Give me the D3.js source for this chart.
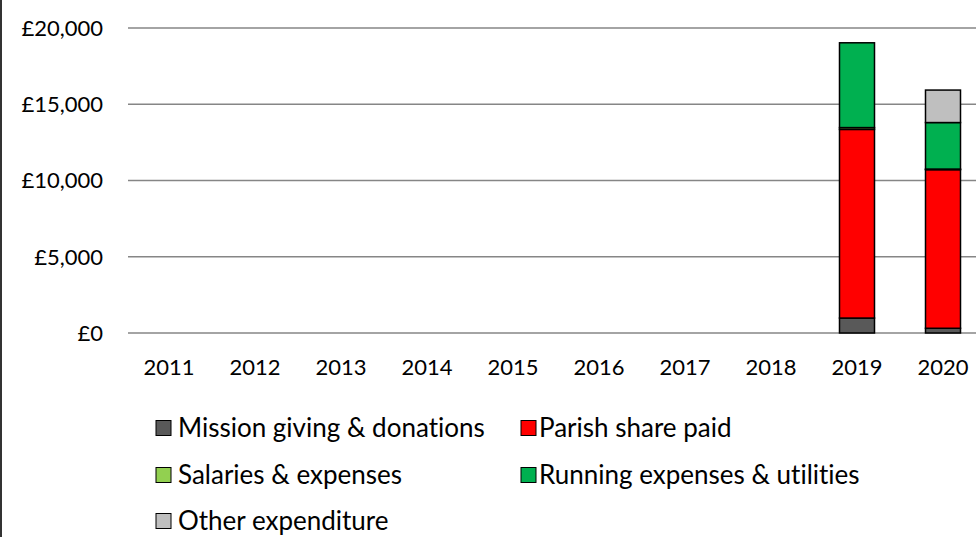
<!DOCTYPE html>
<html>
<head>
<meta charset="utf-8">
<script src="https://cdn.jsdelivr.net/npm/d3@7"></script>
<style>
  body { margin: 0; background: #fff; }
  svg { display: block; font-family: Lato, "Open Sans", sans-serif; font-variant-ligatures: none; }
</style>
</head>
<body>
<svg id="chart" width="976" height="537"></svg>
<script>
const years = ["2011", "2012", "2013", "2014", "2015", "2016", "2017", "2018", "2019", "2020"];
const seriesNames = ["Mission giving & donations", "Parish share paid", "Salaries & expenses", "Running expenses & utilities", "Other expenditure"];
const seriesColors = ["#595959", "#ff0000", "#92d050", "#00b050", "#bfbfbf"];

// values per series, one per year (0 where nothing is shown)
const mission = [0, 0, 0, 0, 0, 0, 0, 0, 980, 310];
const parishShare = [0, 0, 0, 0, 0, 0, 0, 0, 12370, 10400];
const salaries = [0, 0, 0, 0, 0, 0, 0, 0, 120, 40];
const running = [0, 0, 0, 0, 0, 0, 0, 0, 5560, 3050];
const other = [0, 0, 0, 0, 0, 0, 0, 0, 0, 2130];

const yTicks = [0, 5000, 10000, 15000, 20000];

const seriesValues = [mission, parishShare, salaries, running, other];
const table = years.map((y, i) => {
  const row = { year: y };
  seriesNames.forEach((s, j) => (row[s] = seriesValues[j][i]));
  return row;
});

const svg = d3.select("#chart");

const x = d3.scaleBand()
  .domain(years)
  .range([126, 986])
  .paddingInner(0.593)
  .paddingOuter(0.2965);

const y = d3.scaleLinear().domain([0, 20000]).range([333, 28]);

// gridlines
svg.append("g")
  .selectAll("line")
  .data(yTicks)
  .join("line")
  .attr("x1", 128)
  .attr("x2", 976)
  .attr("y1", (d) => y(d))
  .attr("y2", (d) => y(d))
  .attr("stroke", "#868686")
  .attr("stroke-width", 1.5);

// y axis labels
const fmt = d3.format(",");
svg.append("g")
  .selectAll("text")
  .data(yTicks)
  .join("text")
  .attr("x", 103)
  .attr("y", (d) => y(d))
  .attr("dy", "0.36em")
  .attr("text-anchor", "end")
  .attr("font-size", 22)
  .attr("fill", "#000")
  .text((d) => "£" + fmt(d));

// x axis labels
svg.append("g")
  .selectAll("text")
  .data(years)
  .join("text")
  .attr("x", (d) => x(d) + x.bandwidth() / 2)
  .attr("y", 367)
  .attr("dy", "0.36em")
  .attr("text-anchor", "middle")
  .attr("font-size", 22)
  .attr("fill", "#000")
  .text((d) => d);

// stacked bars
const stacked = d3.stack().keys(seriesNames)(table);
svg.append("g")
  .selectAll("g")
  .data(stacked)
  .join("g")
  .attr("fill", (d, i) => seriesColors[i])
  .selectAll("rect")
  .data((d) => d.filter((p) => p[1] - p[0] > 0))
  .join("rect")
  .attr("x", (d) => x(d.data.year))
  .attr("width", x.bandwidth())
  .attr("y", (d) => y(d[1]))
  .attr("height", (d) => y(d[0]) - y(d[1]))
  .attr("stroke", "#000")
  .attr("stroke-width", 1.5);

// legend
const legendPos = [
  { mx: 156, tx: 178, y: 428 },
  { mx: 521, tx: 539, y: 428 },
  { mx: 156, tx: 178, y: 475 },
  { mx: 521, tx: 539, y: 475 },
  { mx: 156, tx: 178, y: 521 },
];
const legend = svg.append("g")
  .selectAll("g")
  .data(seriesNames)
  .join("g");
legend.append("rect")
  .attr("x", (d, i) => legendPos[i].mx)
  .attr("y", (d, i) => legendPos[i].y - 7.5)
  .attr("width", 15)
  .attr("height", 15)
  .attr("fill", (d, i) => seriesColors[i])
  .attr("stroke", "#000")
  .attr("stroke-width", 1);
legend.append("text")
  .attr("x", (d, i) => legendPos[i].tx)
  .attr("y", (d, i) => legendPos[i].y)
  .attr("dy", "0.36em")
  .attr("font-size", 26)
  .attr("fill", "#000")
  .text((d) => d);

// left frame edge
svg.append("line")
  .attr("x1", 1).attr("x2", 1)
  .attr("y1", 0).attr("y2", 537)
  .attr("stroke", "#333")
  .attr("stroke-width", 2);
</script>
</body>
</html>
